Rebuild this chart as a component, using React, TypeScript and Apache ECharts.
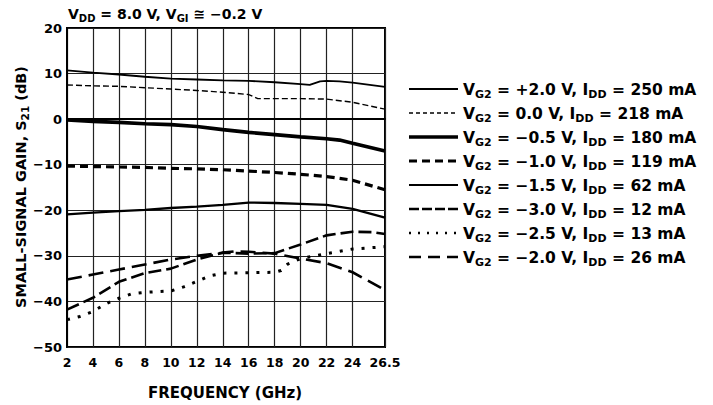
import React, { useEffect, useRef } from 'react';
import * as echarts from 'echarts';

const FONT = '"DejaVu Sans", "Liberation Sans", sans-serif';

// Axis ticks
const freqTicks = [2, 4, 6, 8, 10, 12, 14, 16, 18, 20, 22, 24, 26.5];
const gainMin = -50;
const gainMax = 20;
const gainStep = 10;

// Series values: [frequency GHz, S21 dB]
const gVg2Plus2p0 = [[2, 10.7], [4, 10.2], [6, 9.8], [8, 9.3], [10, 8.9], [12, 8.7], [14, 8.5], [16, 8.4], [18, 8.1], [20, 7.7], [20.7, 7.5], [21.5, 8.3], [22, 8.4], [23, 8.3], [24, 8.0], [26.5, 7.1]];
const gVg2Zero = [[2, 7.5], [4, 7.3], [6, 7.2], [8, 6.9], [10, 6.6], [12, 6.3], [14, 5.9], [16, 5.4], [16.7, 4.5], [18, 4.5], [20, 4.5], [22, 4.4], [24, 3.7], [26.5, 2.2]];
const gVg2Minus0p5 = [[2, -0.2], [4, -0.5], [6, -0.7], [8, -1.0], [10, -1.2], [12, -1.6], [14, -2.3], [16, -2.9], [18, -3.4], [20, -3.9], [22, -4.3], [23, -4.6], [24, -5.3], [26.5, -7.0]];
const gVg2Minus1p0 = [[2, -10.3], [4, -10.4], [6, -10.5], [8, -10.6], [10, -10.8], [12, -10.9], [14, -11.1], [16, -11.4], [18, -11.7], [20, -12.1], [22, -12.6], [24, -13.4], [26.5, -15.5]];
const gVg2Minus1p5 = [[2, -20.9], [4, -20.5], [6, -20.2], [8, -19.9], [10, -19.5], [12, -19.2], [14, -18.8], [16, -18.3], [18, -18.4], [20, -18.6], [22, -18.8], [24, -19.7], [26.5, -21.6]];
const gVg2Minus3p0 = [[2, -41.8], [4, -39.2], [6, -35.7], [8, -33.8], [10, -32.8], [12, -30.8], [14, -29.3], [16, -29.5], [18, -29.4], [20, -27.5], [22, -25.5], [24, -24.7], [25.5, -24.8], [26.5, -25.2]];
const gVg2Minus2p5 = [[2, -44.0], [3, -43.3], [4, -42.2], [5, -40.5], [6, -39.3], [7, -38.3], [8, -38.0], [10, -37.7], [11, -36.8], [12, -35.6], [13, -34.4], [14, -33.8], [16, -33.7], [18, -33.6], [18.5, -33.2], [19, -31.8], [20, -30.6], [22, -29.5], [24, -28.5], [26.5, -28.0]];
const gVg2Minus2p0 = [[2, -35.2], [4, -34.1], [6, -33.0], [8, -31.9], [10, -30.8], [12, -30.0], [14, -29.3], [15, -29.0], [16, -29.1], [18, -29.5], [20, -30.6], [22, -31.6], [24, -33.6], [26.5, -37.5]];

// Legend texts
const vg2Labels = ['+2.0', '0.0', '\u22120.5', '\u22121.0', '\u22121.5', '\u22123.0', '\u22122.5', '\u22122.0'];
const iddLabels = ['250', '218', '180', '119', '62', '12', '13', '26'];

const seriesValues = [gVg2Plus2p0, gVg2Zero, gVg2Minus0p5, gVg2Minus1p0, gVg2Minus1p5, gVg2Minus3p0, gVg2Minus2p5, gVg2Minus2p0];

// Styles (not data)
const plotStyles: { width: number; dash: number[] | 'solid' }[] = [
  { width: 1.8, dash: 'solid' },
  { width: 1.4, dash: [6, 3] },
  { width: 3.6, dash: 'solid' },
  { width: 3.2, dash: [8, 5] },
  { width: 2.3, dash: 'solid' },
  { width: 2.6, dash: [13, 5] },
  { width: 3, dash: [3, 8] },
  { width: 2.6, dash: [15, 7] },
];
const legendStyles: { width: number; dash: number[] | null }[] = [
  { width: 2, dash: null },
  { width: 1.3, dash: [4, 3] },
  { width: 3.4, dash: null },
  { width: 3, dash: [8, 5] },
  { width: 2, dash: null },
  { width: 2.4, dash: [10, 3] },
  { width: 2.4, dash: [2, 7] },
  { width: 2.6, dash: [12, 7] },
];

const richStyles = (main: number, sub: number, lh: number) => ({
  m: { fontFamily: FONT, fontWeight: 'bold', fontSize: main, lineHeight: lh, fill: '#000' },
  s: { fontFamily: FONT, fontWeight: 'bold', fontSize: sub, lineHeight: Math.round(lh / 2), verticalAlign: 'bottom', fill: '#000' },
});

export default function App() {
  const ref = useRef<HTMLDivElement>(null);
  useEffect(() => {
    if (!ref.current) return;
    const chart = echarts.init(ref.current, null, { renderer: 'svg' });

    const legendGraphics: any[] = [];
    vg2Labels.forEach((v, i) => {
      const y = 89 + 24 * i;
      const st = legendStyles[i];
      legendGraphics.push({
        type: 'line',
        shape: { x1: 409, y1: y, x2: 458, y2: y },
        style: { stroke: '#000', lineWidth: st.width, lineDash: st.dash || undefined },
      });
      legendGraphics.push({
        type: 'text',
        x: 463,
        y: y + 1,
        style: {
          text: `{m|V}{s|G2}{m| = ${v} V, I}{s|DD}{m| = ${iddLabels[i]} mA}`,
          rich: richStyles(15.5, 11, 20),
          verticalAlign: 'middle',
          align: 'left',
        },
      });
    });

    const option: any = {
      animation: false,
      backgroundColor: '#fff',
      grid: { left: 67, right: 328, top: 28, bottom: 58, show: true, borderColor: '#000', borderWidth: 2, backgroundColor: 'transparent' },
      xAxis: {
        type: 'value',
        min: 2,
        max: 26.5,
        axisLine: { show: true, lineStyle: { color: '#000', width: 2 } },
        axisTick: { show: false, customValues: freqTicks },
        axisLabel: {
          customValues: freqTicks,
          color: '#000',
          fontFamily: FONT,
          fontWeight: 'bold',
          fontSize: 12.5,
          margin: 9,
          formatter: (v: number) => String(v),
        },
        splitLine: { show: true, lineStyle: { color: '#222', width: 1.2 } },
      },
      yAxis: {
        type: 'value',
        min: gainMin,
        max: gainMax,
        interval: gainStep,
        axisLine: { show: true, lineStyle: { color: '#000', width: 2 } },
        axisTick: { show: false },
        axisLabel: {
          color: '#000',
          fontFamily: FONT,
          fontWeight: 'bold',
          fontSize: 13,
          margin: 5,
          formatter: (v: number) => (v < 0 ? '\u2212' + Math.abs(v) : String(v)),
        },
        splitLine: { show: true, lineStyle: { color: '#222', width: 1.2 } },
      },
      series: seriesValues.map((d, i) => ({
        name: `VG2 = ${vg2Labels[i]} V`,
        type: 'line',
        data: d,
        showSymbol: false,
        symbol: 'none',
        smooth: false,
        lineStyle: { color: '#000', width: plotStyles[i].width, type: plotStyles[i].dash, cap: 'butt' },
        z: 3,
      })),
      graphic: [
        {
          type: 'text',
          x: 68,
          y: 14,
          style: {
            text: '{m|V}{s|DD}{m| = 8.0 V, V}{s|GI}{m| \u2245 \u22120.2 V}',
            rich: richStyles(14, 10, 18),
            verticalAlign: 'middle',
            align: 'left',
          },
        },
        {
          type: 'text',
          x: 21,
          y: 187,
          rotation: Math.PI / 2,
          style: {
            text: '{m|SMALL-SIGNAL GAIN, S}{s|21}{m| (dB)}',
            rich: richStyles(14.5, 10.5, 18),
            verticalAlign: 'middle',
            align: 'center',
          },
        },
        {
          type: 'text',
          x: 225,
          y: 393,
          style: {
            text: 'FREQUENCY (GHz)',
            fontFamily: FONT,
            fontWeight: 'bold',
            fontSize: 15,
            fill: '#000',
            verticalAlign: 'middle',
            align: 'center',
          },
        },
        ...legendGraphics,
      ],
    };
    chart.setOption(option);
    return () => chart.dispose();
  }, []);
  return <div ref={ref} style={{ position: 'fixed', left: 0, top: 0, width: 713, height: 405 }} />;
}
